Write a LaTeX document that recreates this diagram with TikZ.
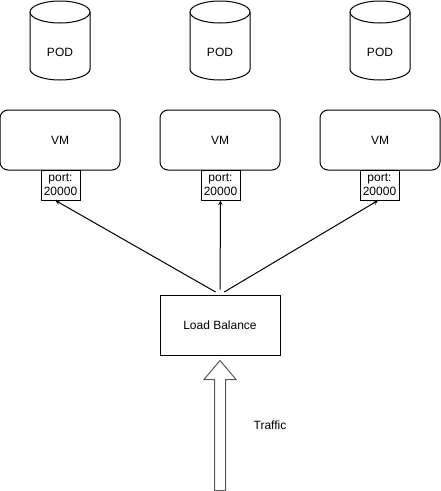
\documentclass[tikz,border=0pt]{standalone}
\usepackage{fontspec}
\setmainfont{Liberation Sans}
\usetikzlibrary{arrows,shapes,positioning}
\tikzstyle{arrow} = [line width=1pt,->,>=stealth,color=black]

\begin{document}
\begin{tikzpicture}[
    x=1pt, y=-1pt,
    line width=1pt,
    every node/.style={font=\fontsize{12}{14}\selectfont},
    vmbox/.style={rectangle, rounded corners=8pt, draw, minimum width=120pt, minimum height=60pt, align=center},
    portbox/.style={rectangle, draw, fill=white, minimum width=39pt, minimum height=30pt, inner sep=0pt, align=center},
    lbbox/.style={rectangle, draw, minimum width=120pt, minimum height=60pt, align=center}
]
\useasboundingbox (0,0) rectangle (441,491);

% Pods (cylinders)
\foreach \x/\n in {60/1,220/2,380/3} {
  \draw (\x-30,12) -- (\x-30,69) arc(180:0:30 and 11) -- (\x+30,12) arc(0:-180:30 and 11) -- cycle;
  \draw (\x-30,12) arc(180:0:30 and 11);
  \node (pod\n) at (\x,52) {POD};
}

% VMs
\node[vmbox] (vm1) at (60,140) {VM};
\node[vmbox] (vm2) at (220,140) {VM};
\node[vmbox] (vm3) at (380,140) {VM};

% Ports
\node[portbox] (port1) at (60.5,185) {port:\\20000};
\node[portbox] (port2) at (220.5,185) {port:\\20000};
\node[portbox] (port3) at (379.5,185) {port:\\20000};

% Load balancer
\node[lbbox] (lb) at (220,325) {Load Balance};

% Arrows
\draw[arrow, shorten <=5pt] (lb.north) -- ([xshift=-5pt]port1.south);
\draw[arrow, shorten <=5pt] (lb.north) -- (port2.south);
\draw[arrow, shorten <=5pt] (lb.north) -- ([xshift=-1.5pt]port3.south);

% Traffic
\coordinate (tip) at ([yshift=-5pt]lb.south);
\draw[draw=black!65, fill=white, line join=miter]
  (tip) -- ++(16,19) -- ++(-10.5,0) -- ++(0,111) -- ++(-11,0) -- ++(0,-111) -- ++(-10.5,0) -- cycle;
\node (traffic) at (270,425) {Traffic};

\end{tikzpicture}
\end{document}
